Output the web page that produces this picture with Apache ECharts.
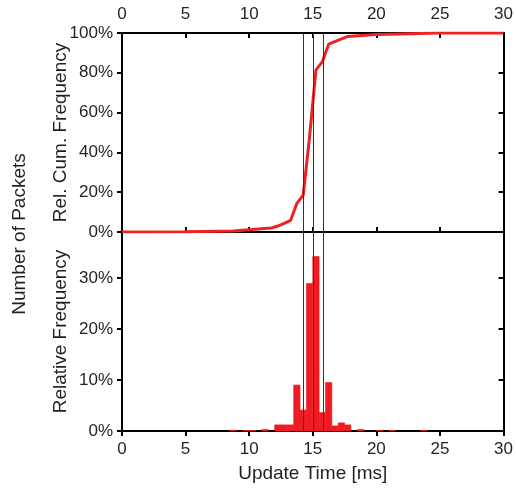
<!DOCTYPE html>
<html>
<head>
<meta charset="utf-8">
<script src="https://cdn.jsdelivr.net/npm/echarts@6/dist/echarts.min.js"></script>
<style>html,body{margin:0;padding:0;background:#fff}#c{width:516px;height:492px}</style>
</head>
<body>
<div id="c"></div>
<script>
// ---- data ----
const xTickValues = [0, 5, 10, 15, 20, 25, 30];
const cdfTime  = [0, 5, 8.75, 10.25, 11.75, 12.25, 12.75, 13.25, 13.75, 14.25, 14.75, 15.25, 15.75, 16.25, 17.75, 20, 25, 30];
const cdfValue = [0, 0.001, 0.005, 0.012, 0.02, 0.03, 0.043, 0.058, 0.144, 0.186, 0.48, 0.815, 0.855, 0.944, 0.983, 0.992, 1.0, 1.0];
const binStart = [8.5, 9.5, 10.0, 11.0, 12.0, 12.5, 13.0, 13.5, 14.0, 14.5, 15.0, 15.5, 16.0, 16.5, 17.0, 17.5, 18.5, 20.0, 21.0, 23.5];
const binFreq  = [0.0015, 0.001, 0.001, 0.003, 0.012, 0.012, 0.012, 0.09, 0.041, 0.289, 0.342, 0.036, 0.095, 0.01, 0.016, 0.012, 0.003, 0.001, 0.001, 0.001];
const binWidth = 0.5;
const refLines = [14.24, 15.05, 15.86];

const FONT = 'Liberation Sans';
const TXT = '#231f20';
const AXIS = {color: '#000', width: 2};
const pct = v => {
  const r = Math.round(v * 1000) / 10;
  return (Math.abs(r / 10 - Math.round(r / 10)) < 1e-6) ? Math.round(r) + '%' : '';
};

const chart = echarts.init(document.getElementById('c'), null, {renderer: 'canvas'});
const xBase = {type: 'value', min: 0, max: 30, interval: 5, splitLine: {show: false},
  axisLine: {show: true, onZero: false, lineStyle: AXIS}};
const lbl = {fontFamily: FONT, fontSize: 17, color: TXT};
const nameStyle = {fontFamily: FONT, fontSize: 19, color: TXT};
const refMark = {
  silent: true, symbol: ['none', 'none'], label: {show: false},
  lineStyle: {color: '#333', width: 1, type: 'solid'},
  data: refLines.map(v => ({xAxis: v}))
};

chart.setOption({
  animation: false,
  grid: [
    {left: 122, top: 33, width: 383, height: 199},
    {left: 122, top: 232, width: 383, height: 199}
  ],
  xAxis: [
    Object.assign({}, xBase, {gridIndex: 0, position: 'top',
      axisTick: {inside: true, length: 5, lineStyle: AXIS},
      axisLabel: Object.assign({margin: 10}, lbl)}),
    Object.assign({}, xBase, {gridIndex: 0, position: 'bottom',
      axisTick: {inside: true, length: 5, lineStyle: AXIS},
      axisLabel: {show: false}}),
    Object.assign({}, xBase, {gridIndex: 1, position: 'bottom',
      axisTick: {inside: false, length: 5, lineStyle: AXIS},
      axisLabel: Object.assign({margin: 10}, lbl),
      name: 'Update Time [ms]', nameLocation: 'middle', nameGap: 33, nameMoveOverlap: false, nameTextStyle: nameStyle})
  ],
  yAxis: [
    {gridIndex: 0, type: 'value', position: 'left', min: 0, max: 1, interval: 0.2,
      splitLine: {show: false}, axisLine: {show: true, onZero: false, lineStyle: AXIS},
      axisTick: {inside: false, length: 5, lineStyle: AXIS},
      axisLabel: Object.assign({margin: 9, formatter: pct}, lbl),
      name: 'Rel. Cum. Frequency', nameLocation: 'middle', nameGap: 52, nameRotate: 90, nameMoveOverlap: false, nameTextStyle: nameStyle},
    {gridIndex: 0, type: 'value', position: 'right', min: 0, max: 1, interval: 0.2,
      splitLine: {show: false}, axisLine: {show: true, onZero: false, lineStyle: AXIS},
      axisTick: {inside: true, length: 5, lineStyle: AXIS}, axisLabel: {show: false}},
    {gridIndex: 1, type: 'value', position: 'left', min: 0, max: 0.39, interval: 0.1,
      splitLine: {show: false}, axisLine: {show: true, onZero: false, lineStyle: AXIS},
      axisTick: {inside: false, length: 5, lineStyle: AXIS},
      axisLabel: Object.assign({margin: 9, formatter: pct, showMaxLabel: false}, lbl),
      name: 'Relative Frequency', nameLocation: 'middle', nameGap: 52, nameRotate: 90, nameMoveOverlap: false, nameTextStyle: nameStyle},
    {gridIndex: 1, type: 'value', position: 'right', min: 0, max: 0.39, interval: 0.1,
      splitLine: {show: false}, axisLine: {show: true, onZero: false, lineStyle: AXIS},
      axisTick: {inside: true, length: 5, lineStyle: AXIS}, axisLabel: {show: false}}
  ],
  graphic: [{
    type: 'text', x: 20, y: 234, rotation: Math.PI / 2,
    style: {text: 'Number of Packets', font: '19px "Liberation Sans"', fill: TXT,
      textAlign: 'center', textVerticalAlign: 'middle'}
  }],
  series: [
    {type: 'line', xAxisIndex: 0, yAxisIndex: 0, symbol: 'none',
      lineStyle: {color: '#ee2222', width: 3}, z: 3,
      data: cdfTime.map((t, i) => [t, cdfValue[i]]),
      markLine: refMark},
    {type: 'custom', xAxisIndex: 2, yAxisIndex: 2, z: 2,
      data: binStart.map((s, i) => [s, binFreq[i]]),
      renderItem: function (params, api) {
        const s = api.value(0), v = api.value(1);
        const p0 = api.coord([s, v]);
        const p1 = api.coord([s + binWidth, 0]);
        return {type: 'rect', shape: {x: p0[0], y: p0[1], width: p1[0] - p0[0], height: p1[1] - p0[1]},
          style: {fill: '#ed1c24', stroke: '#ed1c24', lineWidth: 0.6}};
      },
      markLine: refMark}
  ]
});
</script>
</body>
</html>
